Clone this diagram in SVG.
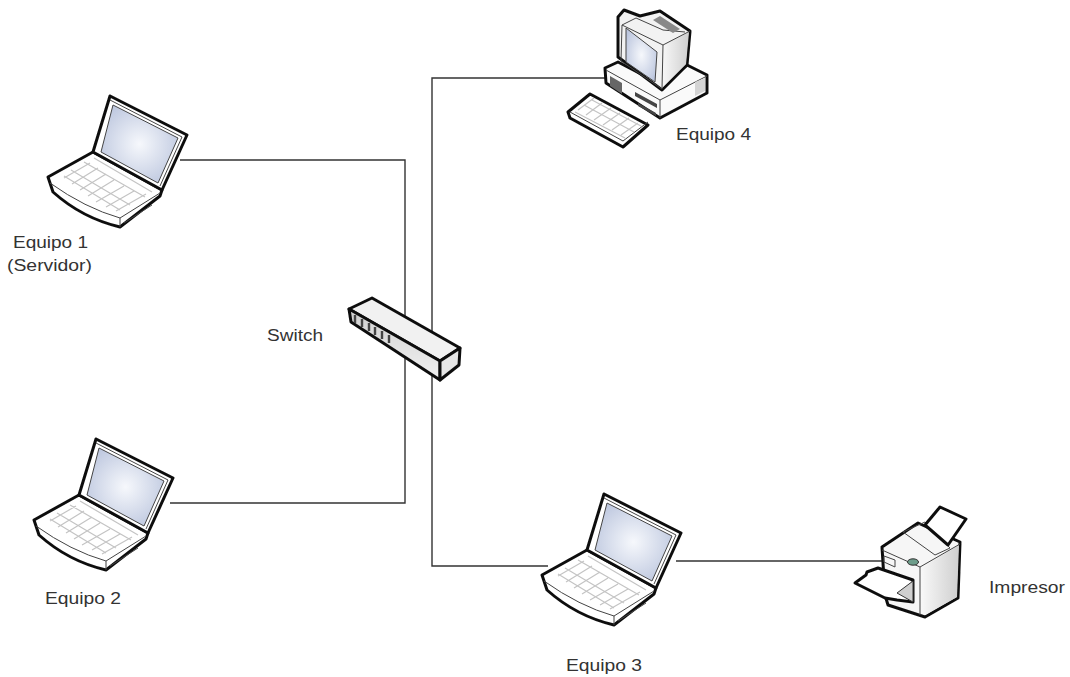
<svg xmlns="http://www.w3.org/2000/svg" width="1070" height="677" viewBox="0 0 1070 677">
<style>
.ol{stroke:#111;stroke-width:3;stroke-linejoin:round;stroke-linecap:round}
.th{stroke:#444;stroke-width:1;stroke-linejoin:round;fill:none}
.key{stroke:#c4c4c4;stroke-width:1.2;fill:none}
.wire{stroke:#333;stroke-width:1.4;fill:none}
.icon{filter:url(#soft)}
text{font-family:"Liberation Sans",Arial,sans-serif;font-size:16px;fill:#333}
</style>
<defs>
<filter id="soft" x="-5%" y="-5%" width="110%" height="110%"><feGaussianBlur stdDeviation="0.45"/></filter>
<radialGradient id="scr" cx="50%" cy="50%" r="60%"><stop offset="0" stop-color="#f6f8fc"/><stop offset="1" stop-color="#bcc6de"/></radialGradient>
<linearGradient id="side" x1="0" y1="0" x2="1" y2="0"><stop offset="0" stop-color="#f8f8f8"/><stop offset="1" stop-color="#cfcfcf"/></linearGradient>
<linearGradient id="sw" x1="0" y1="0" x2="0" y2="1"><stop offset="0" stop-color="#cfcfcf"/><stop offset="1" stop-color="#f2f2f2"/></linearGradient>
<g id="laptop">
<path class="ol" fill="#fff" d="M50 183 L48 177 L93 152 L162 190 L160 196 L120 227 Q82 218 53 192 Z"/>
<path class="th" d="M50 183 Q85 208 120 218 L160 193 M120 218 V227 M124 223 L152 205"/>
<path class="ol" fill="#fff" d="M110 96 L187 135 L162 190 L93 152 Z"/>
<path d="M113 105 L178 138 L158 183 L101 152 Z" fill="url(#scr)" stroke="#444" stroke-width="1"/>
<path class="th" d="M110 100 L182 137 L160 186"/>
<path class="key" d="M64 178 L90 163 M72 184 L98 168 M80 190 L106 174 M88 196 L114 180 M96 202 L124 186 M106 207 L134 191 M116 211 L146 194 M71 170 L130 205 M64 176 L120 210 M84 162 L145 197 M94 158 L152 192"/>
</g>
</defs>
<g id="connectors">
<path class="wire" d="M180 160 H405 V503 H170"/>
<path class="wire" d="M608 78 H432 V566 H548"/>
<path class="wire" d="M676 561 H882"/>
</g>
<g id="equipo-1" class="icon"><use href="#laptop"/></g>
<g id="equipo-2" class="icon"><use href="#laptop" x="-14" y="343"/></g>
<g id="equipo-3" class="icon"><use href="#laptop" x="494" y="398"/></g>
<g id="equipo-4" class="icon">
<path class="ol" fill="#fafafa" d="M605 68 L618 62 L662 85 L687 65 L707 75 V93 L660 118 L606 83 Z"/>
<path class="th" d="M606 70 L660 100 L707 76 M660 100 V118"/>
<path fill="#666" d="M610 76 L622 83 V94 L610 86 Z"/>
<path fill="#444" d="M635 92 L657 104 V108 L635 96 Z M638 103 L656 113 V116 L638 106 Z"/>
<path fill="#d4d4d4" d="M695 82 L705 78 V91 L695 96 Z"/>
<path class="ol" fill="#f2f2f2" d="M618 17 L624 10 L640 16 L660 11 L690 31 L687 65 L662 90 L618 57 Z"/>
<path fill="url(#side)" d="M663 45 L689 32 L686 64 L662 88 Z"/>
<path class="th" fill="#fafafa" d="M622 25 L663 45 L662 89 L621 61 Z"/>
<path d="M626 28 L657 52 L655 82 L626 62 Z" fill="url(#scr)" stroke="#444" stroke-width="1"/>
<path class="th" d="M622 25 L636 18 L663 30 L685 32 M663 45 L690 31"/>
<path fill="#888" d="M653 20 L660 16 L680 29 L673 33 Z"/>
<path class="ol" fill="#fff" d="M568 112 L590 94 L648 125 L623 147 L570 118 Z"/>
<path class="th" d="M570 112 L623 141 L648 122"/>
<path class="key" d="M578 110 L594 98 M586 115 L602 103 M594 120 L611 108 M603 125 L620 113 M612 130 L629 118 M621 135 L638 123 M575 112 L625 138 M584 105 L634 132 M592 100 L641 126"/>
</g>
<g id="switch" class="icon">
<path class="ol" fill="#f1f1f1" d="M372 298 L460 348 L440 361 L349 309 Z"/>
<path class="ol" fill="url(#sw)" d="M349 309 L440 361 V380 L351 322 Z"/>
<path class="ol" fill="#e6e6e6" d="M440 361 L460 348 L459 365 L440 380 Z"/>
<path stroke="#444" stroke-width="2.4" d="M355 315 V323 M362 319 V327 M369 323 V331 M375 327 V335 M382 331 V339 M389 335 V343"/>
</g>
<g id="impresor" class="icon">
<path class="ol" fill="#f6f6f6" d="M882 547 L918 523 L960 542 L958 598 L925 617 L888 605 L885 595 Z"/>
<path fill="url(#side)" d="M921 568 L959 545 L957 597 L925 615 L921 613 Z"/>
<path class="th" d="M882 550 L920 567 L960 544 M920 567 V615"/>
<path class="th" fill="#eee" d="M903 532 L925 522 L950 548 L935 555 Z"/>
<path class="ol" fill="#fff" d="M925 525 L940 507 L966 519 L948 545 Z"/>
<path class="th" d="M884 556 L895 560 V567 L884 562 Z"/>
<ellipse cx="913" cy="562" rx="5.5" ry="3.2" fill="#6d9d8b" stroke="#333"/>
<path class="ol" fill="#fff" d="M855 583 L866 575 L867 572 L878 568 L913 580 V602 L897 600 L885 598 Z"/>
<path fill="#cfcfcf" stroke="#333" d="M897 593 L913 581 V602 Z"/>
</g>
<g id="labels">
<text x="13" y="248" textLength="75" lengthAdjust="spacingAndGlyphs">Equipo 1</text>
<text x="7" y="271" textLength="85" lengthAdjust="spacingAndGlyphs">(Servidor)</text>
<text x="267" y="341" textLength="56" lengthAdjust="spacingAndGlyphs">Switch</text>
<text x="676" y="140" textLength="75" lengthAdjust="spacingAndGlyphs">Equipo 4</text>
<text x="45" y="604" textLength="76" lengthAdjust="spacingAndGlyphs">Equipo 2</text>
<text x="566" y="671" textLength="76" lengthAdjust="spacingAndGlyphs">Equipo 3</text>
<text x="989" y="593" textLength="76" lengthAdjust="spacingAndGlyphs">Impresor</text>
</g>
</svg>
